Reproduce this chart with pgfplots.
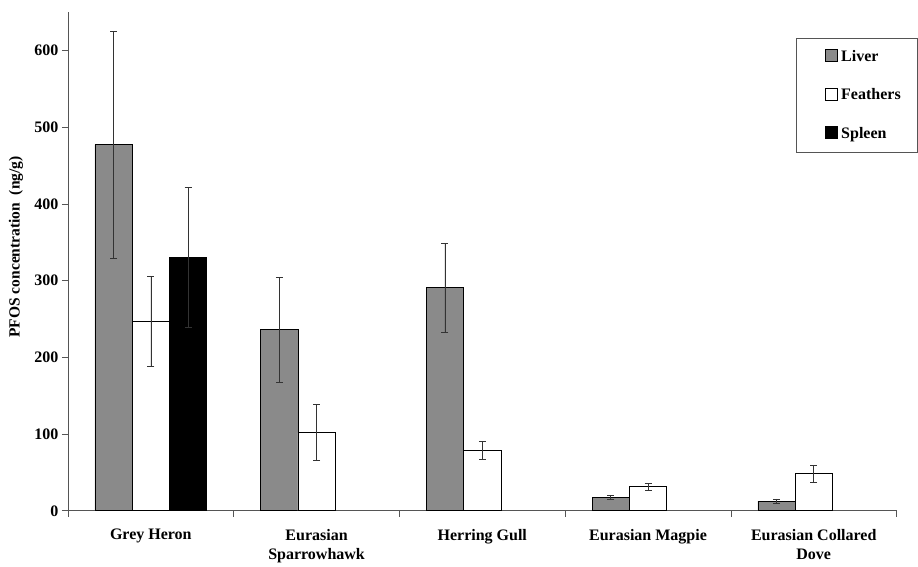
\documentclass[border=0pt]{standalone}
\usepackage{fontspec}
\setmainfont{Liberation Serif}
\usepackage{pgfplots}
\pgfplotsset{compat=1.18}
\usepackage{pgfplotstable}
\definecolor{livergray}{RGB}{138,138,138}
\definecolor{axisgray}{RGB}{85,85,85}

\pgfplotstableread{
x y e
-0.225 477 148
0.775 236 68
1.775 291 58
2.775 17.4 3
3.775 12.6 3
}\liver
\pgfplotstableread{
x y e
0 247 59
1 102 36.5
2 79 11.5
3 31.3 4.8
4 48.3 11.3
}\feathers
\pgfplotstableread{
x y e
0.225 330 91
}\spleen

\begin{document}
\begin{tikzpicture}
\begin{axis}[
  at={(0,0)}, anchor=south west,
  width=829pt, height=499pt, scale only axis,
  xmin=-0.5, xmax=4.5, ymin=0, ymax=650,
  ytick={0,100,...,600},
  xtick={0,1,2,3,4},
  xticklabels={Grey Heron,{Eurasian\\Sparrowhawk},Herring Gull,Eurasian Magpie,{Eurasian Collared\\Dove}},
  minor xtick={-0.5,0.5,...,4.5},
  major x tick style={draw=none},
  minor x tick style={draw=axisgray, line width=0.6pt},
  y tick style={draw=axisgray, line width=0.6pt},
  tick align=outside,
  major tick length=6pt, minor tick length=6pt,
  axis x line*=bottom, axis y line*=left,
  axis line style={axisgray, line width=0.8pt},
  ybar, bar width=0.225, bar shift=0pt,
  tick label style={font=\fontsize{16}{19}\selectfont\bfseries},
  /pgf/number format/assume math mode=true,
  xticklabel style={align=center, yshift=-9pt},
  ylabel={PFOS concentration~~(ng/g)},
  ylabel style={font=\fontsize{15.5}{18}\selectfont\bfseries, at={(axis description cs:-0.0627,0.529)}, anchor=center},
  error bars/error bar style={line width=0.6pt, black!80},
  error bars/error mark options={line width=0.6pt, black!80, mark size=3.5pt, rotate=90},
  legend style={at={(rel axis cs:0.879,0.948)}, anchor=north west, draw=axisgray, line width=0.6pt,
    font=\fontsize{16}{19}\selectfont\bfseries, inner xsep=15pt, inner ysep=10pt, row sep=22pt},
  legend cell align=left,
  legend image code/.code={\path (0pt,0pt) (27pt,0pt); \draw[#1, draw=black, line width=0.6pt] (13pt,-5pt) rectangle (25pt,7pt);},
]
\addplot[fill=livergray, draw=black, line width=0.6pt,
  error bars/.cd, y dir=both, y explicit] table[x=x, y=y, y error=e] {\liver};
\addlegendentry{Liver}
\addplot[fill=white, draw=black, line width=0.6pt,
  error bars/.cd, y dir=both, y explicit] table[x=x, y=y, y error=e] {\feathers};
\addlegendentry{Feathers}
\addplot[fill=black, draw=black, line width=0.6pt,
  error bars/.cd, y dir=both, y explicit] table[x=x, y=y, y error=e] {\spleen};
\addlegendentry{Spleen}
\end{axis}
\path (-68pt,-51pt) rectangle (850pt,511pt);
\end{tikzpicture}
\end{document}
